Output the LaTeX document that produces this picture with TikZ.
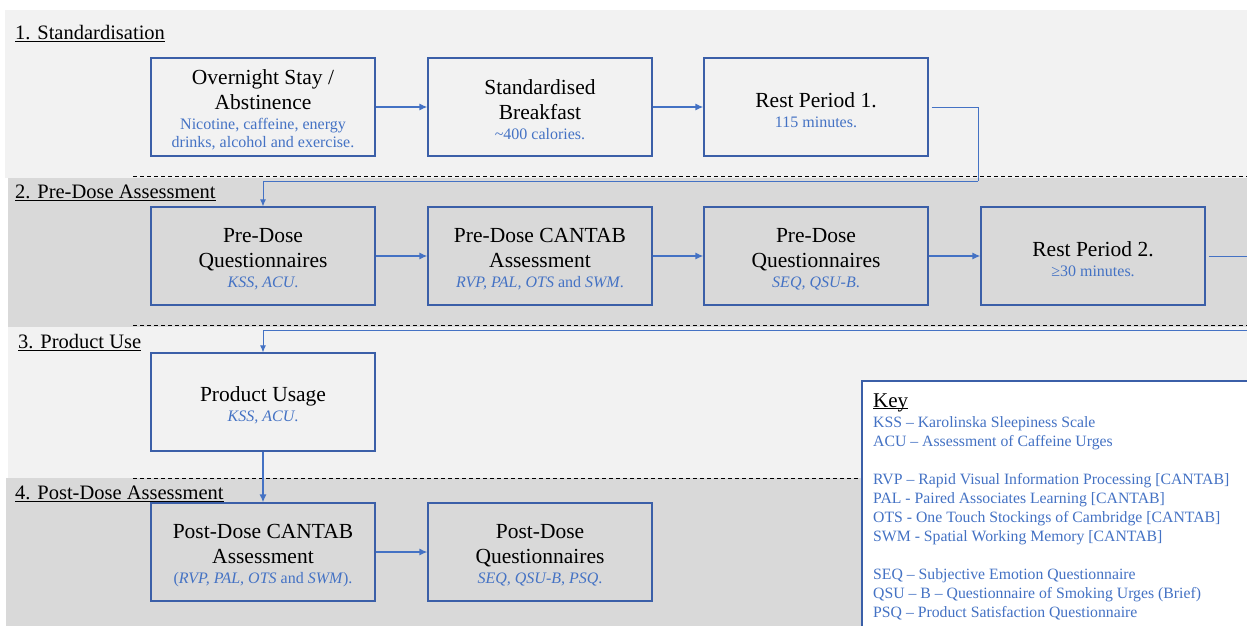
\documentclass[tikz,border=0pt]{standalone}
\usepackage{fontspec}
\setmainfont{Liberation Serif}
\usetikzlibrary{arrows.meta}

\definecolor{bandlight}{HTML}{F2F2F2}
\definecolor{banddark}{HTML}{D9D9D9}
\definecolor{boxblue}{HTML}{3B5FA8}
\definecolor{lineblue}{HTML}{4472C4}
\definecolor{textblue}{HTML}{4472C4}

\newcommand{\subline}[1]{{\fontsize{16}{18}\selectfont\color{textblue}#1}}
\newcommand{\topline}{\rule{0pt}{21pt}}

\begin{document}
\begin{tikzpicture}[x=1pt,y=-1pt,
        stepbox/.style={draw=boxblue,line width=1.1pt,minimum width=224pt,minimum height=98pt,align=center,inner sep=0pt,font=\fontsize{21.5}{25}\selectfont},
        heading/.style={anchor=west,inner sep=0pt,font=\fontsize{20.5}{22}\selectfont},
        flow/.style={draw=lineblue,line width=1.5pt,-{Latex[length=8pt,width=7pt]}},
        route/.style={draw=lineblue,line width=1pt},
        divider/.style={line width=1pt,dash pattern=on 4pt off 3pt}
    ]

    \clip (0,0) rectangle (1247,626);
    \useasboundingbox (0,0) rectangle (1247,626);

    % stage bands
    \fill[bandlight] (5,10) rectangle (1247,178);
    \fill[banddark] (8,178) rectangle (1247,327);
    \fill[bandlight] (8,327) rectangle (1247,478);
    \fill[banddark] (6,478) rectangle (1247,626);

    \draw[divider] (133,176) -- (1247,176);
    \draw[divider] (133,325) -- (1247,325);
    \draw[divider] (133,478) -- (1247,478);

    \node[heading] (stage1) at (15,34) {\underline{1. Standardisation}};
    \node[heading] (stage2) at (15,193) {\underline{2. Pre-Dose Assessment}};
    \node[heading] (stage3) at (18,343) {\underline{3. Product Use}};
    \node[heading] (stage4) at (15,494) {\underline{4. Post-Dose Assessment}};

    % 1. standardisation
    \node[stepbox] (stay) at (263,107) {\topline Overnight Stay /\\Abstinence\\[-5pt]\subline{Nicotine, caffeine, energy}\\[-7pt]\subline{drinks, alcohol and exercise.}};
    \node[stepbox] (breakfast) at (540,107) {\topline Standardised\\Breakfast\\[-5pt]\subline{\textasciitilde400 calories.}};
    \node[stepbox] (rest1) at (816,107) {\topline Rest Period 1.\\[-5pt]\subline{115 minutes.}};

    % 2. pre-dose
    \node[stepbox,fill=banddark] (preq1) at (263,256) {\topline Pre-Dose\\Questionnaires\\[-5pt]\subline{\textit{KSS, ACU}.}};
    \node[stepbox,fill=banddark] (precantab) at (540,256) {\topline Pre-Dose CANTAB\\Assessment\\[-5pt]\subline{\textit{RVP, PAL, OTS} and \textit{SWM}.}};
    \node[stepbox,fill=banddark] (preq2) at (816,256) {\topline Pre-Dose\\Questionnaires\\[-5pt]\subline{\textit{SEQ, QSU-B}.}};
    \node[stepbox,fill=banddark] (rest2) at (1093,256) {\topline Rest Period 2.\\[-5pt]\subline{≥30 minutes.}};

    % 3. product use
    \node[stepbox] (usage) at (263,402) {\topline Product Usage\\[-5pt]\subline{\textit{KSS, ACU}.}};

    % 4. post-dose
    \node[stepbox,fill=banddark] (postcantab) at (263,552) {\topline Post-Dose CANTAB\\Assessment\\[-5pt]\subline{(\textit{RVP, PAL, OTS} and \textit{SWM}).}};
    \node[stepbox,fill=banddark] (postq) at (540,552) {\topline Post-Dose\\Questionnaires\\[-5pt]\subline{\textit{SEQ, QSU-B, PSQ}.}};

    \coordinate (turn1) at (978,181);
    \coordinate (turn2) at (1260,330);

    \draw[flow] (stay) -- (breakfast);
    \draw[flow] (breakfast) -- (rest1);
    \draw[route] ([xshift=3pt]rest1.east) -| (turn1);
    \draw[route,-{Latex[length=7pt,width=6pt]}] (turn1) -| (preq1.north);
    \draw[flow] (preq1) -- (precantab);
    \draw[flow] (precantab) -- (preq2);
    \draw[flow] (preq2) -- (rest2);
    \draw[route] ([xshift=3pt]rest2.east) -| (turn2);
    \draw[route,-{Latex[length=7pt,width=6pt]}] (turn2) -| (usage.north);
    \draw[flow] (usage) -- (postcantab);
    \draw[flow] (postcantab) -- (postq);

    % key
    \draw[draw=boxblue,line width=1.1pt,fill=white] (862,381) rectangle (1300,660);
    \node[anchor=north west,align=left,inner sep=0pt,text=textblue,font=\fontsize{15.75}{19}\selectfont] (key) at (873,392)
        {{\fontsize{21}{22}\selectfont\color{black}\underline{\smash{Key}}\rule{0pt}{15pt}}\\[1pt]
        KSS – Karolinska Sleepiness Scale\\
        ACU – Assessment of Caffeine Urges\\
        \mbox{}\\
        RVP – Rapid Visual Information Processing [CANTAB]\\
        PAL - Paired Associates Learning [CANTAB]\\
        OTS - One Touch Stockings of Cambridge [CANTAB]\\
        SWM - Spatial Working Memory [CANTAB]\\
        \mbox{}\\
        SEQ – Subjective Emotion Questionnaire\\
        QSU – B – Questionnaire of Smoking Urges (Brief)\\
        PSQ – Product Satisfaction Questionnaire};

\end{tikzpicture}
\end{document}
